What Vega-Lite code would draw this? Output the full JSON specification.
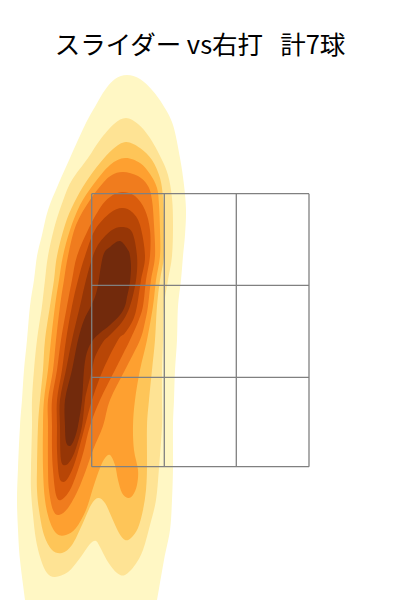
{
  "$schema": "https://vega.github.io/schema/vega-lite/v6.json",
  "width": 400,
  "height": 540,
  "autosize": "none",
  "padding": {"top": 60, "left": 0, "right": 0, "bottom": 0},
  "title": {"text": "スライダー vs右打\u00a0\u00a0\u00a0計7球", "font": "Noto Sans CJK JP", "fontSize": 25.5, "fontWeight": "normal", "color": "#000000", "anchor": "middle", "offset": 1},
  "config": {"view": {"stroke": null}},
  "layer": [
    {
      "data": {"values": [
        {"l":1,"x":127,"y":525},{"l":1,"x":140,"y":521},{"l":1,"x":152,"y":510},{"l":1,"x":163,"y":495},{"l":1,"x":173,"y":475},{"l":1,"x":180,"y":442},{"l":1,"x":184,"y":415},{"l":1,"x":186,"y":390},{"l":1,"x":185,"y":365},{"l":1,"x":183,"y":344},{"l":1,"x":181,"y":320},{"l":1,"x":178,"y":294},{"l":1,"x":177,"y":260},{"l":1,"x":175,"y":230},{"l":1,"x":174,"y":200},{"l":1,"x":173,"y":174},{"l":1,"x":173,"y":132},{"l":1,"x":172,"y":100},{"l":1,"x":170,"y":70},{"l":1,"x":164,"y":40},{"l":1,"x":157,"y":0},{"l":1,"x":154,"y":-12},{"l":1,"x":26,"y":-12},{"l":1,"x":25,"y":0},{"l":1,"x":20,"y":40},{"l":1,"x":18,"y":70},{"l":1,"x":17,"y":100},{"l":1,"x":18,"y":132},{"l":1,"x":20,"y":174},{"l":1,"x":22,"y":200},{"l":1,"x":24,"y":230},{"l":1,"x":27,"y":260},{"l":1,"x":30,"y":294},{"l":1,"x":34,"y":320},{"l":1,"x":37,"y":344},{"l":1,"x":42,"y":365},{"l":1,"x":48,"y":390},{"l":1,"x":58,"y":415},{"l":1,"x":70,"y":442},{"l":1,"x":85,"y":475},{"l":1,"x":96,"y":495},{"l":1,"x":105,"y":510},{"l":1,"x":115,"y":521},
        {"l":2,"x":126,"y":482},{"l":2,"x":138,"y":476},{"l":2,"x":150,"y":462},{"l":2,"x":161,"y":442},{"l":2,"x":168,"y":425},{"l":2,"x":172,"y":402},{"l":2,"x":173,"y":375},{"l":2,"x":172,"y":344},{"l":2,"x":168,"y":320},{"l":2,"x":164,"y":294},{"l":2,"x":163,"y":260},{"l":2,"x":162,"y":230},{"l":2,"x":162,"y":200},{"l":2,"x":162,"y":174},{"l":2,"x":159,"y":132},{"l":2,"x":156,"y":100},{"l":2,"x":150,"y":75},{"l":2,"x":143,"y":50},{"l":2,"x":135,"y":35},{"l":2,"x":125,"y":25},{"l":2,"x":117,"y":27},{"l":2,"x":108,"y":38},{"l":2,"x":100,"y":53},{"l":2,"x":96,"y":59},{"l":2,"x":90,"y":56},{"l":2,"x":80,"y":42},{"l":2,"x":68,"y":28},{"l":2,"x":55,"y":23},{"l":2,"x":47,"y":27},{"l":2,"x":41,"y":40},{"l":2,"x":36,"y":60},{"l":2,"x":33,"y":85},{"l":2,"x":31,"y":110},{"l":2,"x":31,"y":132},{"l":2,"x":32,"y":174},{"l":2,"x":32,"y":200},{"l":2,"x":34,"y":230},{"l":2,"x":37,"y":260},{"l":2,"x":42,"y":294},{"l":2,"x":45,"y":320},{"l":2,"x":48,"y":344},{"l":2,"x":55,"y":375},{"l":2,"x":64,"y":402},{"l":2,"x":72,"y":420},{"l":2,"x":88,"y":442},{"l":2,"x":100,"y":460},{"l":2,"x":114,"y":476},
        {"l":3,"x":126,"y":458},{"l":3,"x":140,"y":452},{"l":3,"x":152,"y":440},{"l":3,"x":160,"y":422},{"l":3,"x":163,"y":402},{"l":3,"x":164,"y":375},{"l":3,"x":164,"y":344},{"l":3,"x":160,"y":320},{"l":3,"x":157,"y":294},{"l":3,"x":155,"y":260},{"l":3,"x":152,"y":230},{"l":3,"x":149,"y":200},{"l":3,"x":147,"y":174},{"l":3,"x":147,"y":132},{"l":3,"x":146,"y":110},{"l":3,"x":143,"y":90},{"l":3,"x":138,"y":72},{"l":3,"x":131,"y":62},{"l":3,"x":125,"y":60},{"l":3,"x":119,"y":67},{"l":3,"x":112,"y":82},{"l":3,"x":105,"y":97},{"l":3,"x":98,"y":102},{"l":3,"x":91,"y":95},{"l":3,"x":82,"y":75},{"l":3,"x":72,"y":55},{"l":3,"x":62,"y":47},{"l":3,"x":52,"y":50},{"l":3,"x":44,"y":65},{"l":3,"x":39,"y":90},{"l":3,"x":37,"y":110},{"l":3,"x":37,"y":132},{"l":3,"x":38,"y":174},{"l":3,"x":40,"y":200},{"l":3,"x":43,"y":230},{"l":3,"x":45,"y":260},{"l":3,"x":50,"y":294},{"l":3,"x":54,"y":320},{"l":3,"x":57,"y":344},{"l":3,"x":65,"y":375},{"l":3,"x":74,"y":397},{"l":3,"x":86,"y":418},{"l":3,"x":100,"y":437},{"l":3,"x":113,"y":451},
        {"l":4,"x":125,"y":442},{"l":4,"x":140,"y":437},{"l":4,"x":150,"y":426},{"l":4,"x":157,"y":412},{"l":4,"x":159,"y":395},{"l":4,"x":160,"y":370},{"l":4,"x":160,"y":344},{"l":4,"x":156,"y":320},{"l":4,"x":153,"y":294},{"l":4,"x":147,"y":260},{"l":4,"x":140,"y":230},{"l":4,"x":135,"y":200},{"l":4,"x":133,"y":174},{"l":4,"x":134,"y":150},{"l":4,"x":138,"y":130},{"l":4,"x":137,"y":115},{"l":4,"x":133,"y":105},{"l":4,"x":128,"y":102},{"l":4,"x":122,"y":107},{"l":4,"x":118,"y":120},{"l":4,"x":115,"y":135},{"l":4,"x":110,"y":145},{"l":4,"x":105,"y":142},{"l":4,"x":100,"y":132},{"l":4,"x":94,"y":115},{"l":4,"x":86,"y":90},{"l":4,"x":76,"y":72},{"l":4,"x":66,"y":65},{"l":4,"x":57,"y":66},{"l":4,"x":50,"y":78},{"l":4,"x":45,"y":100},{"l":4,"x":43,"y":132},{"l":4,"x":43,"y":174},{"l":4,"x":44,"y":200},{"l":4,"x":48,"y":230},{"l":4,"x":51,"y":260},{"l":4,"x":55,"y":294},{"l":4,"x":59,"y":320},{"l":4,"x":63,"y":344},{"l":4,"x":70,"y":370},{"l":4,"x":80,"y":395},{"l":4,"x":93,"y":415},{"l":4,"x":110,"y":435},
        {"l":5,"x":123,"y":428},{"l":5,"x":138,"y":424},{"l":5,"x":148,"y":414},{"l":5,"x":152,"y":400},{"l":5,"x":154,"y":375},{"l":5,"x":155,"y":344},{"l":5,"x":151,"y":320},{"l":5,"x":148,"y":294},{"l":5,"x":145,"y":278},{"l":5,"x":140,"y":260},{"l":5,"x":125,"y":230},{"l":5,"x":110,"y":200},{"l":5,"x":103,"y":174},{"l":5,"x":93,"y":150},{"l":5,"x":86,"y":130},{"l":5,"x":78,"y":110},{"l":5,"x":68,"y":92},{"l":5,"x":59,"y":85},{"l":5,"x":53,"y":90},{"l":5,"x":49,"y":110},{"l":5,"x":48,"y":132},{"l":5,"x":48,"y":174},{"l":5,"x":48,"y":200},{"l":5,"x":53,"y":230},{"l":5,"x":56,"y":260},{"l":5,"x":60,"y":294},{"l":5,"x":64,"y":320},{"l":5,"x":68,"y":344},{"l":5,"x":76,"y":375},{"l":5,"x":90,"y":400},{"l":5,"x":103,"y":417},{"l":5,"x":112,"y":425},
        {"l":6,"x":122,"y":408},{"l":6,"x":135,"y":404},{"l":6,"x":145,"y":390},{"l":6,"x":150,"y":370},{"l":6,"x":150,"y":344},{"l":6,"x":146,"y":320},{"l":6,"x":143,"y":294},{"l":6,"x":138,"y":278},{"l":6,"x":130,"y":260},{"l":6,"x":115,"y":230},{"l":6,"x":100,"y":200},{"l":6,"x":90,"y":174},{"l":6,"x":84,"y":150},{"l":6,"x":78,"y":130},{"l":6,"x":70,"y":110},{"l":6,"x":61,"y":100},{"l":6,"x":56,"y":105},{"l":6,"x":53,"y":130},{"l":6,"x":52,"y":150},{"l":6,"x":52,"y":174},{"l":6,"x":52,"y":200},{"l":6,"x":57,"y":230},{"l":6,"x":61,"y":260},{"l":6,"x":67,"y":294},{"l":6,"x":72,"y":320},{"l":6,"x":77,"y":344},{"l":6,"x":88,"y":370},{"l":6,"x":100,"y":392},{"l":6,"x":110,"y":403},
        {"l":7,"x":122,"y":392},{"l":7,"x":132,"y":388},{"l":7,"x":140,"y":375},{"l":7,"x":145,"y":344},{"l":7,"x":141,"y":320},{"l":7,"x":137,"y":294},{"l":7,"x":133,"y":280},{"l":7,"x":125,"y":267},{"l":7,"x":118,"y":260},{"l":7,"x":103,"y":230},{"l":7,"x":92,"y":200},{"l":7,"x":85,"y":174},{"l":7,"x":80,"y":155},{"l":7,"x":74,"y":135},{"l":7,"x":68,"y":122},{"l":7,"x":63,"y":118},{"l":7,"x":59,"y":124},{"l":7,"x":57,"y":150},{"l":7,"x":57,"y":174},{"l":7,"x":57,"y":200},{"l":7,"x":62,"y":230},{"l":7,"x":66,"y":260},{"l":7,"x":72,"y":294},{"l":7,"x":78,"y":320},{"l":7,"x":85,"y":344},{"l":7,"x":95,"y":370},{"l":7,"x":110,"y":387},
        {"l":8,"x":122,"y":373},{"l":8,"x":132,"y":368},{"l":8,"x":137,"y":344},{"l":8,"x":136,"y":320},{"l":8,"x":130,"y":294},{"l":8,"x":122,"y":278},{"l":8,"x":110,"y":265},{"l":8,"x":103,"y":258},{"l":8,"x":95,"y":243},{"l":8,"x":92,"y":230},{"l":8,"x":87,"y":210},{"l":8,"x":85,"y":200},{"l":8,"x":82,"y":174},{"l":8,"x":77,"y":155},{"l":8,"x":72,"y":142},{"l":8,"x":66,"y":135},{"l":8,"x":61,"y":140},{"l":8,"x":60,"y":174},{"l":8,"x":60,"y":200},{"l":8,"x":66,"y":230},{"l":8,"x":72,"y":260},{"l":8,"x":80,"y":294},{"l":8,"x":86,"y":320},{"l":8,"x":93,"y":344},{"l":8,"x":100,"y":358},{"l":8,"x":112,"y":370},
        {"l":9,"x":120,"y":359},{"l":9,"x":128,"y":350},{"l":9,"x":130,"y":344},{"l":9,"x":131,"y":333},{"l":9,"x":130,"y":318},{"l":9,"x":127,"y":303},{"l":9,"x":125,"y":294},{"l":9,"x":120,"y":285},{"l":9,"x":110,"y":275},{"l":9,"x":100,"y":267},{"l":9,"x":93,"y":260},{"l":9,"x":87,"y":248},{"l":9,"x":84,"y":230},{"l":9,"x":82,"y":200},{"l":9,"x":78,"y":174},{"l":9,"x":74,"y":160},{"l":9,"x":70,"y":154},{"l":9,"x":66,"y":158},{"l":9,"x":65,"y":174},{"l":9,"x":65,"y":200},{"l":9,"x":72,"y":230},{"l":9,"x":78,"y":260},{"l":9,"x":84,"y":280},{"l":9,"x":91,"y":294},{"l":9,"x":97,"y":310},{"l":9,"x":103,"y":344},{"l":9,"x":110,"y":353}
      ]},
      "transform": [{"window": [{"op": "row_number", "as": "o"}]}],
      "mark": {"type": "line", "interpolate": "cardinal-closed", "strokeWidth": 0, "clip": true},
      "encoding": {
        "x": {"field": "x", "type": "quantitative", "axis": null, "scale": {"domain": [0, 400], "nice": false, "zero": false}},
        "y": {"field": "y", "type": "quantitative", "axis": null, "scale": {"domain": [0, 540], "nice": false, "zero": false}},
        "detail": {"field": "l", "type": "ordinal"},
        "order": {"field": "o", "type": "quantitative"},
        "fill": {"field": "l", "type": "ordinal", "legend": null, "scale": {"domain": [1,2,3,4,5,6,7,8,9], "range": ["#fff7c4","#fee394","#fec558","#fea030","#f07c1e","#da5c0c","#b84606","#963606","#722a0c"]}}
      }
    },
    {
      "data": {"values": [
        {"x":91.7,"y":133.3,"x2":91.7,"y2":406.3},
        {"x":164.3,"y":133.3,"x2":164.3,"y2":406.3},
        {"x":236.3,"y":133.3,"x2":236.3,"y2":406.3},
        {"x":309,"y":133.3,"x2":309,"y2":406.3},
        {"x":91.7,"y":406.3,"x2":309,"y2":406.3},
        {"x":91.7,"y":314.7,"x2":309,"y2":314.7},
        {"x":91.7,"y":222.7,"x2":309,"y2":222.7},
        {"x":91.7,"y":133.3,"x2":309,"y2":133.3}
      ]},
      "mark": {"type": "rule", "color": "#808080", "strokeWidth": 1.3},
      "encoding": {
        "x": {"field": "x", "type": "quantitative"},
        "y": {"field": "y", "type": "quantitative"},
        "x2": {"field": "x2"},
        "y2": {"field": "y2"}
      }
    }
  ]
}
